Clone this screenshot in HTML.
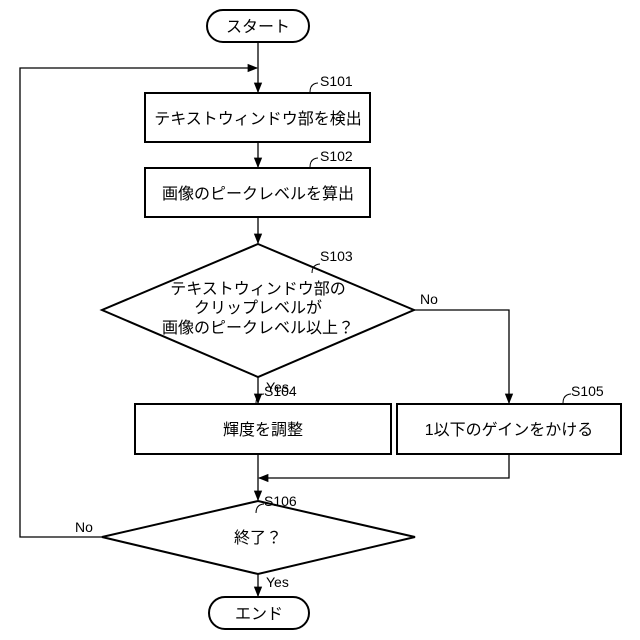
<!DOCTYPE html>
<html><head><meta charset="utf-8"><style>body{margin:0;background:#fff}svg{display:block}</style></head><body>
<svg width="640" height="640" viewBox="0 0 640 640" xmlns="http://www.w3.org/2000/svg" font-family="Liberation Sans, Noto Sans CJK JP, sans-serif" fill="none" stroke="#000" stroke-width="1.3">
<defs><marker id="a" viewBox="0 0 10 10" refX="9" refY="5" markerWidth="8" markerHeight="8" orient="auto"><path d="M0,1 L10,5 L0,9 z" fill="#000" stroke="none"/></marker></defs>
<rect x="207" y="10" width="102" height="32" rx="16" stroke-width="2"/>
<rect x="145" y="93" width="225" height="49" stroke-width="2"/>
<rect x="145" y="168" width="225" height="49" stroke-width="2"/>
<polygon points="258,244 414,310 258,377 102,310" stroke-width="2"/>
<rect x="135" y="404" width="256" height="50" stroke-width="2"/>
<rect x="397" y="404" width="224" height="50" stroke-width="2"/>
<polygon points="258,501 415,537 258,574 102,537" stroke-width="2"/>
<rect x="209" y="597" width="100" height="32" rx="16" stroke-width="2"/>
<line x1="258" y1="42" x2="258" y2="92" marker-end="url(#a)"/>
<polyline points="102,537 20,537 20,68 257,68" marker-end="url(#a)"/>
<line x1="258" y1="142" x2="258" y2="167" marker-end="url(#a)"/>
<line x1="258" y1="217" x2="258" y2="243" marker-end="url(#a)"/>
<line x1="258" y1="377" x2="258" y2="403" marker-end="url(#a)"/>
<polyline points="414,310 509,310 509,403" marker-end="url(#a)"/>
<line x1="258" y1="454" x2="258" y2="500" marker-end="url(#a)"/>
<polyline points="509,454 509,478 259,478" marker-end="url(#a)"/>
<line x1="258" y1="574" x2="258" y2="596" marker-end="url(#a)"/>
<g stroke-width="1">
<path d="M310,92 q0,-6 4,-8 q2,-1 4,-1"/><path d="M310,167 q0,-6 4,-8 q2,-1 4,-1"/>
<path d="M312,273 q0,-6 4,-8 q2,-1 4,-1"/><path d="M256,403 q0,-6 4,-8 q2,-1 4,-1"/>
<path d="M563,403 q0,-6 4,-8 q2,-1 4,-1"/><path d="M256,513 q0,-6 4,-8 q2,-1 4,-1"/>
</g>
<g fill="#000" stroke="none" font-size="16" text-anchor="middle">
<text x="258" y="32">スタート</text>
<text x="258" y="124">テキストウィンドウ部を検出</text>
<text x="258" y="199">画像のピークレベルを算出</text>
<text x="258" y="294">テキストウィンドウ部の</text>
<text x="258" y="313">クリップレベルが</text>
<text x="258" y="333">画像のピークレベル以上？</text>
<text x="263" y="435">輝度を調整</text>
<text x="509" y="435">1以下のゲインをかける</text>
<text x="258" y="543">終了？</text>
<text x="259" y="619">エンド</text>
</g>
<g fill="#000" stroke="none" font-size="14">
<text x="320" y="86">S101</text><text x="320" y="161">S102</text><text x="320" y="261">S103</text>
<text x="264" y="396">S104</text><text x="571" y="396">S105</text><text x="264" y="506">S106</text>
<text x="420" y="304">No</text><text x="266" y="392">Yes</text>
<text x="75" y="532">No</text><text x="266" y="587">Yes</text>
</g>
</svg>
</body></html>
